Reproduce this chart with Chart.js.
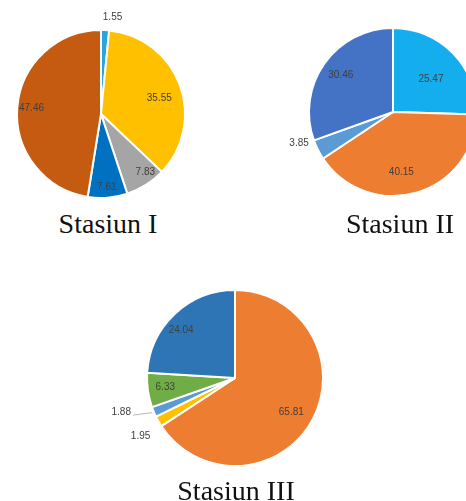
<!DOCTYPE html>
<html>
<head>
<meta charset="utf-8">
<script src="https://cdn.jsdelivr.net/npm/chart.js@4/dist/chart.umd.min.js"></script>
<style>
  html, body { margin: 0; padding: 0; background: #fff; }
  #page { position: relative; width: 466px; height: 501px; overflow: hidden; background: #fff; }
  canvas { position: absolute; }
  .title {
    position: absolute; font-family: "Liberation Serif", "Times New Roman", serif;
    font-size: 28px; line-height: 28px; color: #111; white-space: nowrap;
    transform: translateX(-50%);
  }
</style>
</head>
<body>
<div id="page">
  <canvas id="c1" width="200" height="200" style="left:1px;top:6px"></canvas>
  <canvas id="c2" width="230" height="200" style="left:263px;top:12px"></canvas>
  <canvas id="c3" width="239" height="208" style="left:100px;top:274px"></canvas>
  <div class="title" style="left:108px;top:210px">Stasiun I</div>
  <div class="title" style="left:400px;top:210px">Stasiun II</div>
  <div class="title" style="left:236px;top:477px">Stasiun III</div>
</div>
<script>
// Station names
const stations = ['Stasiun I', 'Stasiun II', 'Stasiun III'];

// Composition (%) per station, clockwise from the top
const stasiun1Values = [1.55, 35.55, 7.83, 7.61, 47.46];
const stasiun2Values = [25.47, 40.15, 3.85, 30.46];
const stasiun3Values = [65.81, 1.95, 1.88, 6.33, 24.04];

// Slice colours
const stasiun1Colors = ['#2AA3DF', '#FFC000', '#A5A5A5', '#0070C0', '#C55A11'];
const stasiun2Colors = ['#14AEEE', '#ED7D31', '#5B9BD5', '#4472C4'];
const stasiun3Colors = ['#ED7D31', '#FFC000', '#5B9BD5', '#70AD47', '#2E75B6'];

// Writes each slice's value on or beside its slice
const sliceLabels = {
  id: 'sliceLabels',
  afterDatasetsDraw(chart, args, opts) {
    const ctx = chart.ctx;
    const meta = chart.getDatasetMeta(0);
    const values = chart.data.datasets[0].data;
    ctx.save();
    ctx.font = '10px "Liberation Sans", Arial, sans-serif';
    ctx.fillStyle = '#404040';
    ctx.textAlign = 'center';
    ctx.textBaseline = 'middle';
    meta.data.forEach((arc, i) => {
      const p = arc.getProps(['x', 'y', 'startAngle', 'endAngle', 'outerRadius'], true);
      const mid = (p.startAngle + p.endAngle) / 2 + (opts.shift ? (opts.shift[i] || 0) : 0) * Math.PI / 180;
      const f = opts.radial[i];
      const lx = p.x + Math.cos(mid) * p.outerRadius * f;
      const ly = p.y + Math.sin(mid) * p.outerRadius * f;
      const txt = values[i].toFixed(2);
      ctx.fillText(txt, lx, ly);
      if (opts.leaders && opts.leaders[i]) {
        const w = ctx.measureText(txt).width;
        const am = (p.startAngle + p.endAngle) / 2;
        ctx.strokeStyle = '#A6A6A6';
        ctx.lineWidth = 0.8;
        ctx.beginPath();
        ctx.moveTo(lx + w / 2 + 2, ly + 3);
        ctx.lineTo(p.x + Math.cos(am) * p.outerRadius * 1.02, p.y + Math.sin(am) * p.outerRadius * 1.02);
        ctx.stroke();
      }
    });
    ctx.restore();
  }
};

function makePie(id, values, colors, padding, labelOpts) {
  return new Chart(document.getElementById(id), {
    type: 'pie',
    data: {
      labels: values.map((v, i) => String(i + 1)),
      datasets: [{
        data: values,
        backgroundColor: colors,
        borderColor: '#ffffff',
        borderWidth: 2
      }]
    },
    options: {
      responsive: false,
      animation: false,
      layout: { padding: padding },
      plugins: {
        legend: { display: false },
        tooltip: { enabled: false },
        title: { display: false },
        sliceLabels: labelOpts
      }
    },
    plugins: [sliceLabels]
  });
}

makePie('c1', stasiun1Values, stasiun1Colors, { left: 15, right: 15, top: 23, bottom: 7 }, {
  radial: [1.16, 0.72, 0.87, 0.87, 0.83],
  shift: [4, 5, -5, 0, 0]
});
makePie('c2', stasiun2Values, stasiun2Colors, { left: 45, right: 15, top: 15, bottom: 15 }, {
  radial: [0.6, 0.72, 1.18, 0.76],
  shift: [3, 8, 8, 0]
});
makePie('c3', stasiun3Values, stasiun3Colors, { left: 46, right: 15, top: 15, bottom: 15 }, {
  radial: [0.75, 1.26, 1.35, 0.8, 0.82],
  shift: [3, -2, 6, 0, -5],
  leaders: [false, false, true, false, false]
});
</script>
</body>
</html>
